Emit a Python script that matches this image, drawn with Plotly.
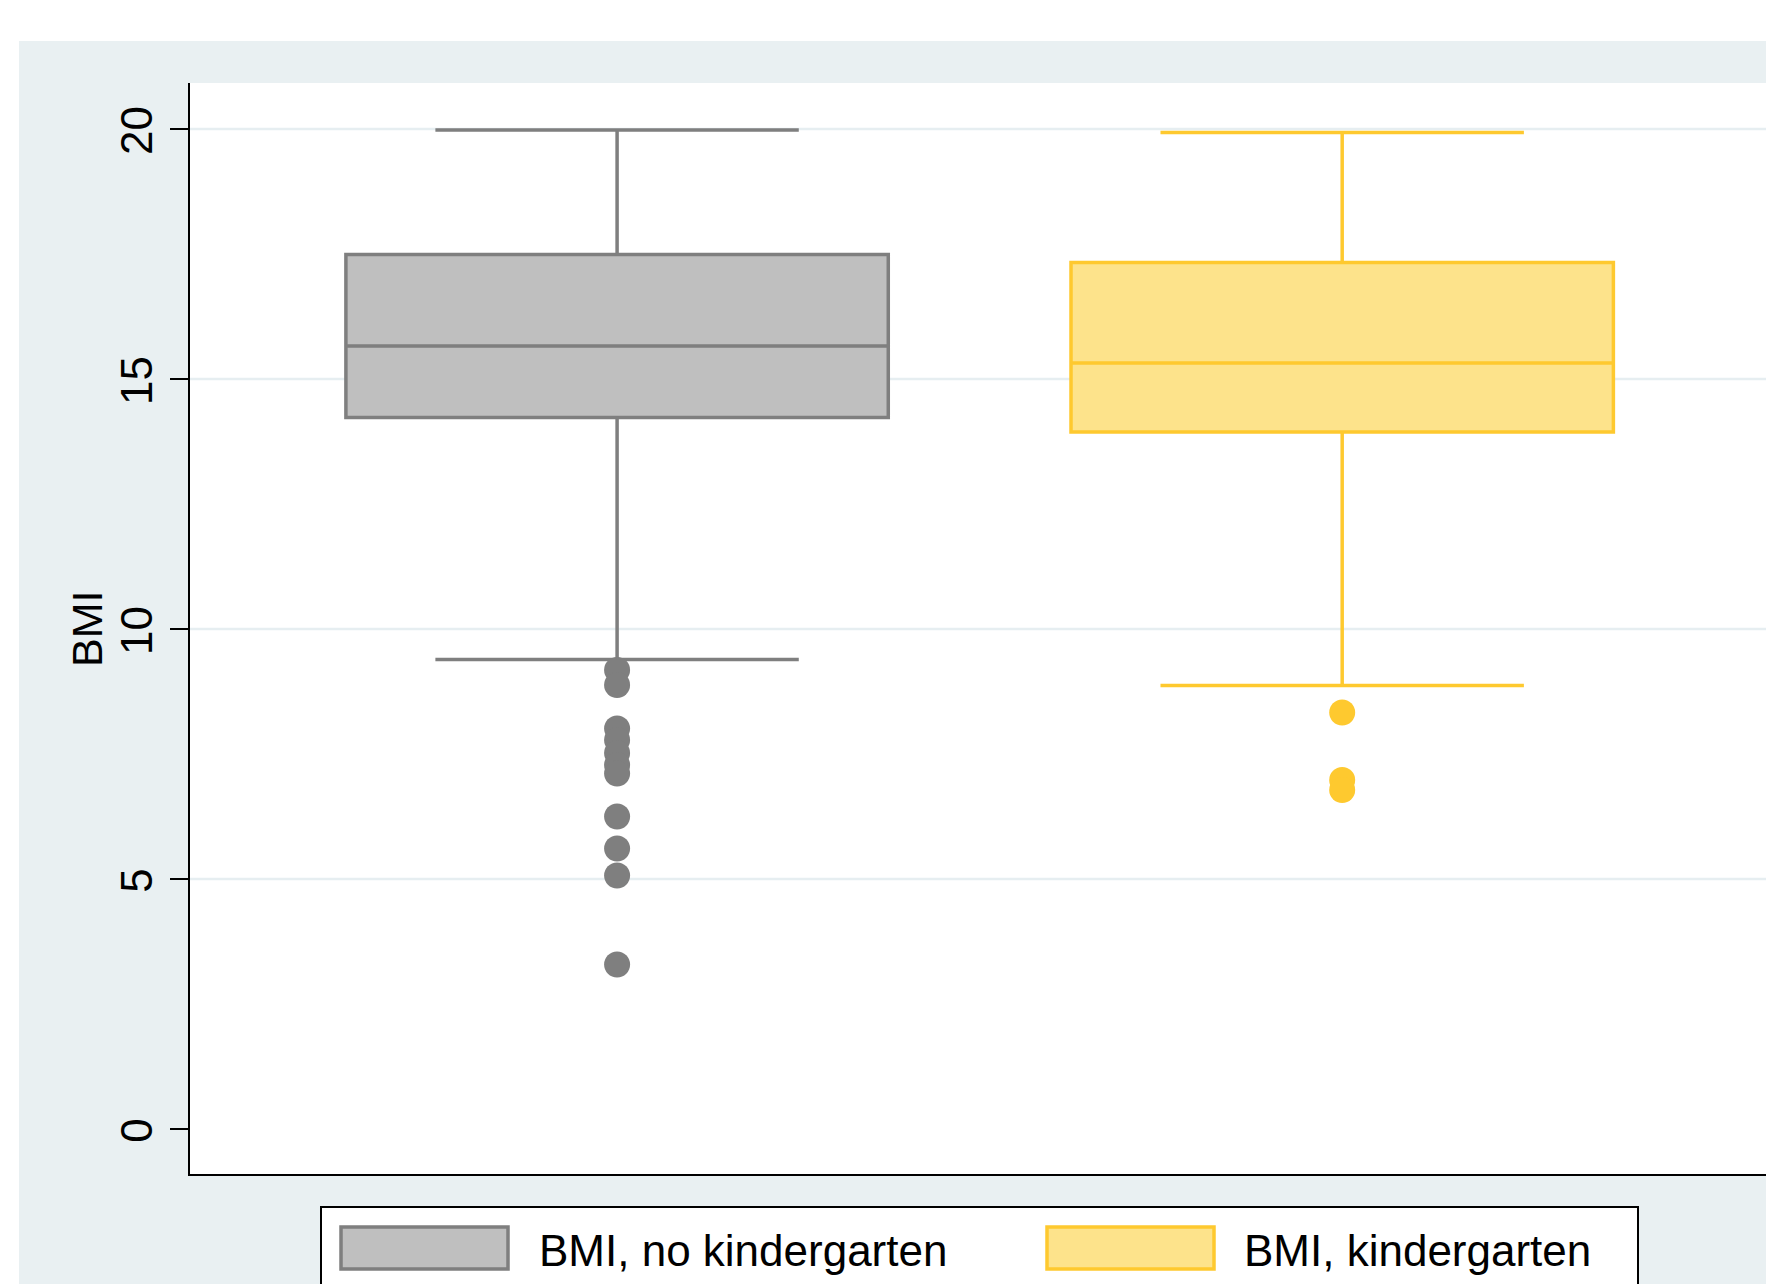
import plotly.graph_objects as go

# ---------------- data ----------------
categories = ["BMI, no kindergarten", "BMI, kindergarten"]
cat_pos = [0, 1]
q1 = [14.23, 13.94]
median = [15.66, 15.32]
q3 = [17.49, 17.33]
lowerfence = [9.39, 8.87]
upperfence = [19.98, 19.93]
outliers_no_kindergarten = [9.18, 8.88, 8.01, 7.78, 7.52, 7.28, 7.11, 6.25, 5.61, 5.07, 3.29]
outliers_kindergarten = [8.33, 6.98, 6.78]
y_ticks = [0, 5, 10, 15, 20]
grid_values = [5, 10, 15, 20]

# ---------------- styles ----------------
OFF = 8  # default page body margin
W, H = 1774 - OFF, 1284 - OFF
L, R, T, B = 190 - OFF, 4, 83 - OFF, 110
PW, PH = W - L - R, H - T - B
BG = "#e9f0f2"
line_colors = ["#7f7f7f", "#fec92f"]
fill_colors = ["#bfbfbf", "#fde38b"]
FONT = "Liberation Sans, Arial, Helvetica, sans-serif"


def px_x(p):
    # p: pixel in the reference screenshot
    return (p - OFF - L) / PW


def px_y(p):
    return (H - B - (p - OFF)) / PH


fig = go.Figure()
outliers = [outliers_no_kindergarten, outliers_kindergarten]
for i in range(2):
    fig.add_trace(go.Box(
        x=[cat_pos[i]], q1=[q1[i]], median=[median[i]], q3=[q3[i]],
        lowerfence=[lowerfence[i]], upperfence=[upperfence[i]],
        name=categories[i], width=0.748, whiskerwidth=0.67,
        fillcolor=fill_colors[i], line=dict(color=line_colors[i], width=3.5),
        boxpoints=False, showlegend=False, hoverinfo="y",
    ))
    fig.add_trace(go.Scatter(
        x=[cat_pos[i]] * len(outliers[i]), y=outliers[i], mode="markers",
        marker=dict(color=line_colors[i], size=26, line=dict(width=0)),
        showlegend=False, name=categories[i],
    ))

for g in grid_values:
    fig.add_hline(y=g, line=dict(color="#e6eef1", width=2.5), layer="below")

shapes = [
    # white margins around the light graph region
    dict(type="rect", xref="paper", yref="paper", x0=px_x(-20), x1=px_x(1800),
         y0=px_y(41), y1=px_y(-20), fillcolor="white", line=dict(width=0), layer="below"),
    dict(type="rect", xref="paper", yref="paper", x0=px_x(-20), x1=px_x(19),
         y0=px_y(1310), y1=px_y(-20), fillcolor="white", line=dict(width=0), layer="below"),
    # legend frame
    dict(type="rect", xref="paper", yref="paper", x0=px_x(321), x1=px_x(1638),
         y0=px_y(1330), y1=px_y(1207), fillcolor="white", line=dict(color="black", width=2)),
]
legend_swatches = [(341, 508), (1047, 1214)]
legend_text_x = [537, 1242]
for i in range(2):
    x0, x1 = legend_swatches[i]
    shapes.append(dict(type="rect", xref="paper", yref="paper", x0=px_x(x0), x1=px_x(x1),
                       y0=px_y(1269), y1=px_y(1227), fillcolor=fill_colors[i],
                       line=dict(color=line_colors[i], width=3.5)))
fig.update_layout(shapes=list(fig.layout.shapes) + shapes)

annotations = []
for i in range(2):
    annotations.append(dict(xref="paper", yref="paper", x=px_x(legend_text_x[i]), y=px_y(1250),
                            text=categories[i], showarrow=False, xanchor="left", yanchor="middle",
                            font=dict(family=FONT, size=44, color="black")))
annotations.append(dict(xref="paper", yref="y", x=px_x(87), y=10, text="BMI", textangle=-90,
                        showarrow=False, xanchor="center", yanchor="middle",
                        font=dict(family=FONT, size=43, color="black")))

fig.update_layout(
    width=W, height=H,
    margin=dict(l=L, r=R, t=T, b=B, pad=0),
    paper_bgcolor=BG, plot_bgcolor="white",
    annotations=annotations,
    showlegend=False,
    xaxis=dict(range=[-0.589, 1.590], showgrid=False, zeroline=False, showticklabels=False,
               ticks="", showline=True, linecolor="black", linewidth=2),
    yaxis=dict(range=[-0.9, 20.92], tickvals=y_ticks, ticktext=[str(v) for v in y_ticks],
               showgrid=False, zeroline=False, showline=True, linecolor="black", linewidth=2,
               ticks="outside", ticklen=18, tickwidth=2, tickcolor="black", tickangle=-90,
               ticklabelstandoff=0, ticklabelshift=8,
               tickfont=dict(family=FONT, size=44, color="black")),
)

fig.write_html("out.html")
